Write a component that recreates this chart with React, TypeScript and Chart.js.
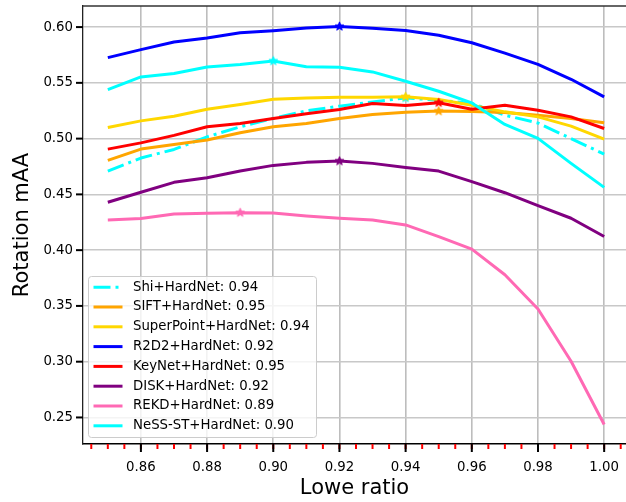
import React, { useEffect, useRef } from 'react';
import { Chart, registerables } from 'chart.js';

Chart.register(...registerables);

// ---- data ----
const loweRatio = [0.85, 0.86, 0.87, 0.88, 0.89, 0.9, 0.91, 0.92, 0.93, 0.94, 0.95, 0.96, 0.97, 0.98, 0.99, 1.0];

const shiHardNet = [0.4709, 0.4826, 0.4903, 0.5016, 0.5106, 0.5181, 0.5249, 0.5291, 0.5329, 0.5365, 0.5344, 0.5315, 0.521, 0.514, 0.5, 0.4861];
const siftHardNet = [0.4805, 0.4906, 0.4948, 0.4987, 0.5052, 0.5106, 0.5136, 0.5181, 0.5216, 0.5237, 0.5247, 0.5243, 0.5234, 0.521, 0.5181, 0.5142];
const superPointHardNet = [0.51, 0.5159, 0.5201, 0.5264, 0.5306, 0.5353, 0.5365, 0.5371, 0.537, 0.5376, 0.535, 0.53, 0.524, 0.5195, 0.5112, 0.4996];
const r2d2HardNet = [0.5726, 0.5798, 0.5866, 0.5902, 0.595, 0.5968, 0.5991, 0.6006, 0.599, 0.597, 0.5926, 0.586, 0.5767, 0.5666, 0.5532, 0.5374];
const keyNetHardNet = [0.4906, 0.4962, 0.5029, 0.5106, 0.5136, 0.5181, 0.5222, 0.5261, 0.5315, 0.5297, 0.5322, 0.5264, 0.53, 0.5255, 0.5195, 0.5091];
const diskHardNet = [0.4429, 0.4519, 0.4608, 0.4649, 0.4709, 0.476, 0.4787, 0.4799, 0.4778, 0.4742, 0.4709, 0.4614, 0.4515, 0.4399, 0.4286, 0.4122];
const rekdHardNet = [0.4271, 0.4283, 0.4325, 0.4331, 0.4336, 0.4334, 0.4307, 0.4286, 0.4271, 0.4226, 0.4122, 0.4009, 0.3779, 0.3472, 0.3004, 0.2437];
const nessHardNet = [0.544, 0.5553, 0.5583, 0.5642, 0.5664, 0.5696, 0.5645, 0.564, 0.5598, 0.5514, 0.5425, 0.532, 0.5127, 0.5002, 0.4778, 0.4563];

const seriesLabels = [
  'Shi+HardNet: 0.94',
  'SIFT+HardNet: 0.95',
  'SuperPoint+HardNet: 0.94',
  'R2D2+HardNet: 0.92',
  'KeyNet+HardNet: 0.95',
  'DISK+HardNet: 0.92',
  'REKD+HardNet: 0.89',
  'NeSS-ST+HardNet: 0.90',
];
const bestRatios = [0.94, 0.95, 0.94, 0.92, 0.95, 0.92, 0.89, 0.9];
const seriesValues = [shiHardNet, siftHardNet, superPointHardNet, r2d2HardNet, keyNetHardNet, diskHardNet, rekdHardNet, nessHardNet];
const seriesColors = ['#00ffff', '#ffa500', '#ffd700', '#0000ff', '#ff0000', '#800080', '#ff69b4', '#00ffff'];
const seriesDashes: number[][] = [[17, 5, 3, 5], [], [], [], [], [], [], []];

const xTickValues = [0.86, 0.88, 0.9, 0.92, 0.94, 0.96, 0.98, 1.0];
const xMinorTickValues = [
  0.845, 0.85, 0.855, 0.86, 0.865, 0.87, 0.875, 0.88, 0.885, 0.89, 0.895, 0.9, 0.905, 0.91, 0.915, 0.92,
  0.925, 0.93, 0.935, 0.94, 0.945, 0.95, 0.955, 0.96, 0.965, 0.97, 0.975, 0.98, 0.985, 0.99, 0.995, 1.0, 1.005,
];
const yTickValues = [0.25, 0.3, 0.35, 0.4, 0.45, 0.5, 0.55, 0.6];

const FONT = '"DejaVu Sans", sans-serif';

function makeStar(color: string): HTMLCanvasElement {
  const c = document.createElement('canvas');
  c.width = 11;
  c.height = 11;
  const g = c.getContext('2d')!;
  const cx = 5.5, cy = 5.5, ro = 4.6, ri = 1.9;
  g.beginPath();
  for (let k = 0; k < 10; k++) {
    const r = k % 2 === 0 ? ro : ri;
    const a = -Math.PI / 2 + (k * Math.PI) / 5;
    const px = cx + r * Math.cos(a);
    const py = cy + r * Math.sin(a);
    if (k === 0) g.moveTo(px, py);
    else g.lineTo(px, py);
  }
  g.closePath();
  g.fillStyle = color;
  g.fill();
  g.strokeStyle = color;
  g.lineWidth = 1;
  g.stroke();
  return c;
}

const decorPlugin = {
  id: 'decor',
  afterDraw(chart: any) {
    const { ctx, chartArea } = chart;
    const xs = chart.scales.x;
    const ys = chart.scales.y;
    ctx.save();
    // top spine
    ctx.strokeStyle = '#333';
    ctx.lineWidth = 1.3;
    ctx.beginPath();
    ctx.moveTo(chartArea.left, chartArea.top);
    ctx.lineTo(chartArea.right, chartArea.top);
    ctx.stroke();
    // minor x ticks (red)
    ctx.strokeStyle = '#ff0000';
    ctx.lineWidth = 2;
    for (const v of xMinorTickValues) {
      const px = xs.getPixelForValue(v);
      if (px < chartArea.left - 1 || px > chartArea.right + 1) continue;
      ctx.beginPath();
      ctx.moveTo(px, chartArea.bottom);
      ctx.lineTo(px, chartArea.bottom + 5);
      ctx.stroke();
    }
    // major x ticks
    ctx.strokeStyle = '#000';
    for (const v of xTickValues) {
      const px = xs.getPixelForValue(v);
      ctx.beginPath();
      ctx.moveTo(px, chartArea.bottom);
      ctx.lineTo(px, chartArea.bottom + 8);
      ctx.stroke();
    }
    // y ticks
    for (const v of yTickValues) {
      const py = ys.getPixelForValue(v);
      ctx.beginPath();
      ctx.moveTo(chartArea.left - 7, py);
      ctx.lineTo(chartArea.left, py);
      ctx.stroke();
    }
    // legend
    const x0 = chartArea.left + 5.5;
    const w = 228;
    const h = 161;
    const y0 = chartArea.bottom - 6.5 - h;
    const r = 3;
    ctx.beginPath();
    ctx.moveTo(x0 + r, y0);
    ctx.lineTo(x0 + w - r, y0);
    ctx.arcTo(x0 + w, y0, x0 + w, y0 + r, r);
    ctx.lineTo(x0 + w, y0 + h - r);
    ctx.arcTo(x0 + w, y0 + h, x0 + w - r, y0 + h, r);
    ctx.lineTo(x0 + r, y0 + h);
    ctx.arcTo(x0, y0 + h, x0, y0 + h - r, r);
    ctx.lineTo(x0, y0 + r);
    ctx.arcTo(x0, y0, x0 + r, y0, r);
    ctx.closePath();
    ctx.fillStyle = 'rgba(255,255,255,0.8)';
    ctx.fill();
    ctx.strokeStyle = '#cccccc';
    ctx.lineWidth = 1;
    ctx.stroke();
    ctx.font = `13.3px ${FONT}`;
    ctx.textBaseline = 'middle';
    ctx.textAlign = 'left';
    seriesLabels.forEach((label, i) => {
      const y = y0 + 10.7 + i * 19.8;
      ctx.save();
      ctx.strokeStyle = seriesColors[i];
      ctx.lineWidth = 3;
      ctx.lineCap = 'butt';
      ctx.setLineDash(seriesDashes[i]);
      ctx.beginPath();
      ctx.moveTo(x0 + 5, y);
      ctx.lineTo(x0 + 34, y);
      ctx.stroke();
      ctx.restore();
      ctx.fillStyle = '#000';
      ctx.fillText(label, x0 + 44.5, y);
    });
    ctx.restore();
  },
};

export default function App() {
  const ref = useRef<HTMLCanvasElement>(null);
  useEffect(() => {
    document.body.style.margin = '0';
    document.body.style.overflow = 'hidden';
    const canvas = ref.current!;
    const datasets = seriesLabels.map((label, i) => {
      const best = loweRatio.findIndex((x) => Math.abs(x - bestRatios[i]) < 1e-9);
      const star = makeStar(seriesColors[i]);
      return {
        label,
        data: loweRatio.map((x, j) => ({ x, y: seriesValues[i][j] })),
        borderColor: seriesColors[i],
        backgroundColor: seriesColors[i],
        borderWidth: 3,
        borderDash: seriesDashes[i],
        borderCapStyle: 'butt',
        borderJoinStyle: 'round',
        tension: 0,
        fill: false,
        order: -i,
        pointStyle: (c: any) => (c.dataIndex === best ? star : 'circle'),
        pointRadius: (c: any) => (c.dataIndex === best ? 5 : 0),
        pointHoverRadius: 0,
        pointHitRadius: 0,
        pointBorderWidth: 0,
      };
    });
    const chart = new Chart(canvas, {
      type: 'line',
      data: { datasets: datasets as any },
      plugins: [decorPlugin as any],
      options: {
        animation: false,
        responsive: false,
        maintainAspectRatio: false,
        devicePixelRatio: 1,
        events: [],
        layout: { padding: { top: 6, left: 0, right: 0, bottom: 0 }, autoPadding: false },
        plugins: { legend: { display: false }, tooltip: { enabled: false } },
        scales: {
          x: {
            type: 'linear',
            min: 0.8425,
            max: 1.0066,
            afterBuildTicks: (s: any) => {
              s.ticks = xTickValues.map((v) => ({ value: v }));
            },
            afterFit: (s: any) => {
              s.height = 58;
              s.paddingLeft = 0;
              s.paddingRight = 0;
            },
            ticks: {
              autoSkip: false,
              maxRotation: 0,
              minRotation: 0,
              padding: 16,
              color: '#000',
              font: { family: FONT, size: 13.3 },
              callback: (v: any) => Number(v).toFixed(2),
            },
            grid: { color: '#bdbdbd', lineWidth: 1.6, drawTicks: false },
            border: { color: '#000', width: 1.5 },
            title: {
              display: true,
              text: 'Lowe ratio',
              color: '#000',
              font: { family: FONT, size: 21, weight: 'normal' },
              padding: { top: 0, bottom: 0.5 },
            },
          },
          y: {
            type: 'linear',
            min: 0.2262,
            max: 0.6189,
            afterBuildTicks: (s: any) => {
              s.ticks = yTickValues.map((v) => ({ value: v }));
            },
            afterFit: (s: any) => {
              s.width = 83;
              s.paddingTop = 0;
              s.paddingBottom = 0;
            },
            ticks: {
              autoSkip: false,
              padding: 10,
              color: '#000',
              font: { family: FONT, size: 13.3 },
              callback: (v: any) => Number(v).toFixed(2),
            },
            grid: { color: '#c8c8c8', lineWidth: 1.6, drawTicks: false },
            border: { color: '#222', width: 1.3 },
            title: {
              display: true,
              text: 'Rotation mAA',
              color: '#000',
              font: { family: FONT, size: 21, weight: 'normal' },
              padding: { top: 9.5, bottom: 0 },
            },
          },
        },
      } as any,
    });
    return () => chart.destroy();
  }, []);
  return (
    <div style={{ width: 626, height: 502, position: 'relative' }}>
      <canvas ref={ref} width={626} height={502} style={{ display: 'block', width: 626, height: 502 }} />
    </div>
  );
}
